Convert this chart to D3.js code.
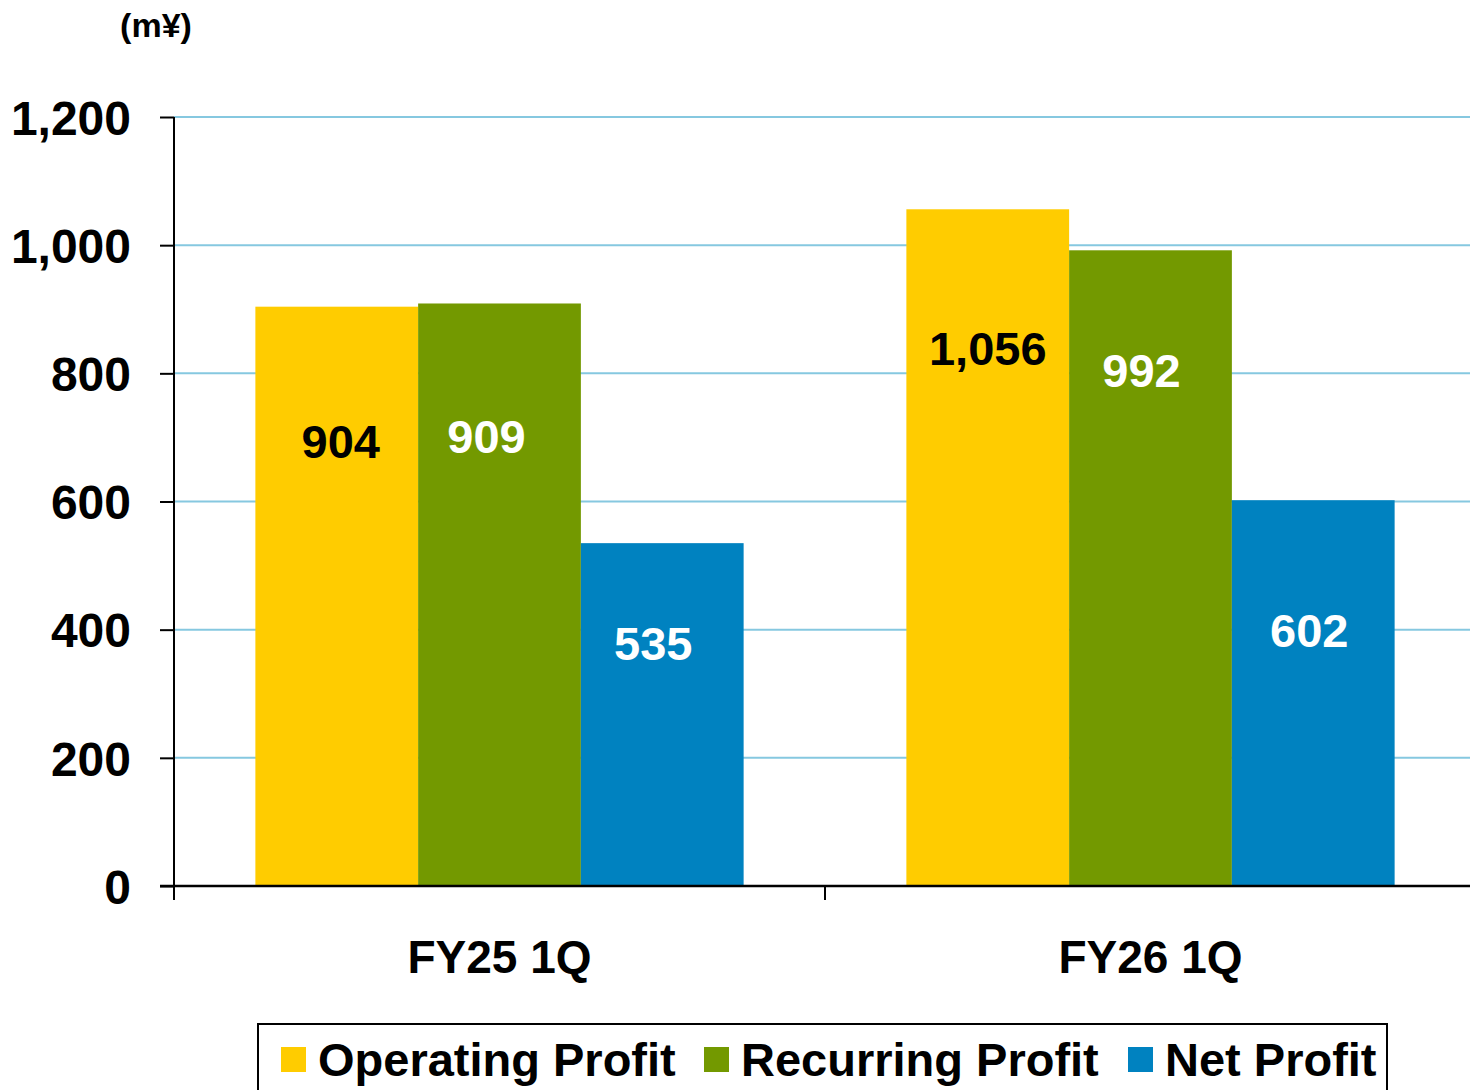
<!DOCTYPE html>
<html><head><meta charset="utf-8">
<script src="https://cdn.jsdelivr.net/npm/d3@7"></script>
<style>html,body{margin:0;padding:0;background:#fff}svg{display:block}</style>
</head><body>
<script>
const categories = ["FY25 1Q", "FY26 1Q"];
const seriesNames = ["Operating Profit", "Recurring Profit", "Net Profit"];
const operatingProfit = [904, 1056];
const recurringProfit = [909, 992];
const netProfit = [535, 602];
const yTicks = [0, 200, 400, 600, 800, 1000, 1200];
const unitLabel = "(m¥)";

const seriesValues = [operatingProfit, recurringProfit, netProfit];
const colors = ["#FFCC00", "#739900", "#0082C0"];
const labelColors = ["#000", "#fff", "#fff"];
// label offsets (px from bar top / bar centre), styling only
const labelOffsets = [[134, 139], [133, 120], [100, 130]];
const labelDx = [[4, 0], [-13, -9], [-9, -4]];

const W = 1470, H = 1090;
const font = "'Liberation Sans', Arial, sans-serif";
const svg = d3.select("body").append("svg").attr("width", W).attr("height", H);

const x0 = d3.scaleBand().domain(categories).range([174, 1476]).paddingInner(0).paddingOuter(0);
const x1 = d3.scaleBand().domain(seriesNames).range([0, x0.bandwidth()]).paddingInner(0).paddingOuter(0.5);
const y = d3.scaleLinear().domain([0, 1200]).range([886, 117]);

// gridlines
svg.append("g").selectAll("line").data(yTicks.filter(d => d > 0)).join("line")
  .attr("x1", 174).attr("x2", W).attr("y1", d => y(d)).attr("y2", d => y(d))
  .attr("stroke", "#86C8E0").attr("stroke-width", 2);

// bars
categories.forEach((c, ci) => {
  seriesNames.forEach((s, si) => {
    const v = seriesValues[si][ci];
    svg.append("rect")
      .attr("x", x0(c) + x1(s)).attr("width", x1.bandwidth())
      .attr("y", y(v)).attr("height", y(0) - y(v))
      .attr("fill", colors[si]);
  });
});

// y axis
const yAxis = d3.axisLeft(y).tickValues(yTicks).tickFormat(d3.format(",")).tickSize(14).tickPadding(29);
const gy = svg.append("g").attr("transform", "translate(174,0)").call(yAxis);
gy.select(".domain").remove();
gy.selectAll(".tick line").attr("stroke", "#000").attr("stroke-width", 2);
gy.selectAll(".tick text").attr("font-family", font).attr("font-weight", "bold")
  .attr("font-size", 48).attr("fill", "#000").attr("dy", "0.36em");
svg.append("line").attr("x1", 174).attr("x2", 174).attr("y1", 117).attr("y2", 900)
  .attr("stroke", "#000").attr("stroke-width", 2);

// x axis
svg.append("line").attr("x1", 160).attr("x2", W).attr("y1", y(0)).attr("y2", y(0))
  .attr("stroke", "#000").attr("stroke-width", 2.5);
svg.append("g").selectAll("line").data(categories.slice(1)).join("line")
  .attr("x1", d => x0(d)).attr("x2", d => x0(d)).attr("y1", y(0)).attr("y2", 900)
  .attr("stroke", "#000").attr("stroke-width", 2);
svg.append("g").selectAll("text").data(categories).join("text")
  .attr("x", d => x0(d) + x0.bandwidth() / 2).attr("y", 973)
  .attr("text-anchor", "middle").attr("font-family", font).attr("font-weight", "bold")
  .attr("font-size", 46).text(d => d);

// unit label
svg.append("text").attr("x", 156).attr("y", 37).attr("text-anchor", "middle")
  .attr("font-family", font).attr("font-weight", "bold").attr("font-size", 34).text(unitLabel);

// data labels
categories.forEach((c, ci) => {
  seriesNames.forEach((s, si) => {
    const v = seriesValues[si][ci];
    svg.append("text")
      .attr("x", x0(c) + x1(s) + x1.bandwidth() / 2 + labelDx[si][ci])
      .attr("y", y(v) + labelOffsets[si][ci]).attr("dy", "0.36em")
      .attr("text-anchor", "middle").attr("font-family", font).attr("font-weight", "bold")
      .attr("font-size", 47).attr("fill", labelColors[si]).text(d3.format(",")(v));
  });
});

// legend
svg.append("rect").attr("x", 258).attr("y", 1024).attr("width", 1129).attr("height", 80)
  .attr("fill", "none").attr("stroke", "#000").attr("stroke-width", 2);
const legendX = [281, 704, 1128];
seriesNames.forEach((s, i) => {
  svg.append("rect").attr("x", legendX[i]).attr("y", 1047).attr("width", 25).attr("height", 25).attr("fill", colors[i]);
  svg.append("text").attr("x", legendX[i] + 37).attr("y", 1076)
    .attr("font-family", font).attr("font-weight", "bold").attr("font-size", 47).text(s);
});
</script>
</body></html>
